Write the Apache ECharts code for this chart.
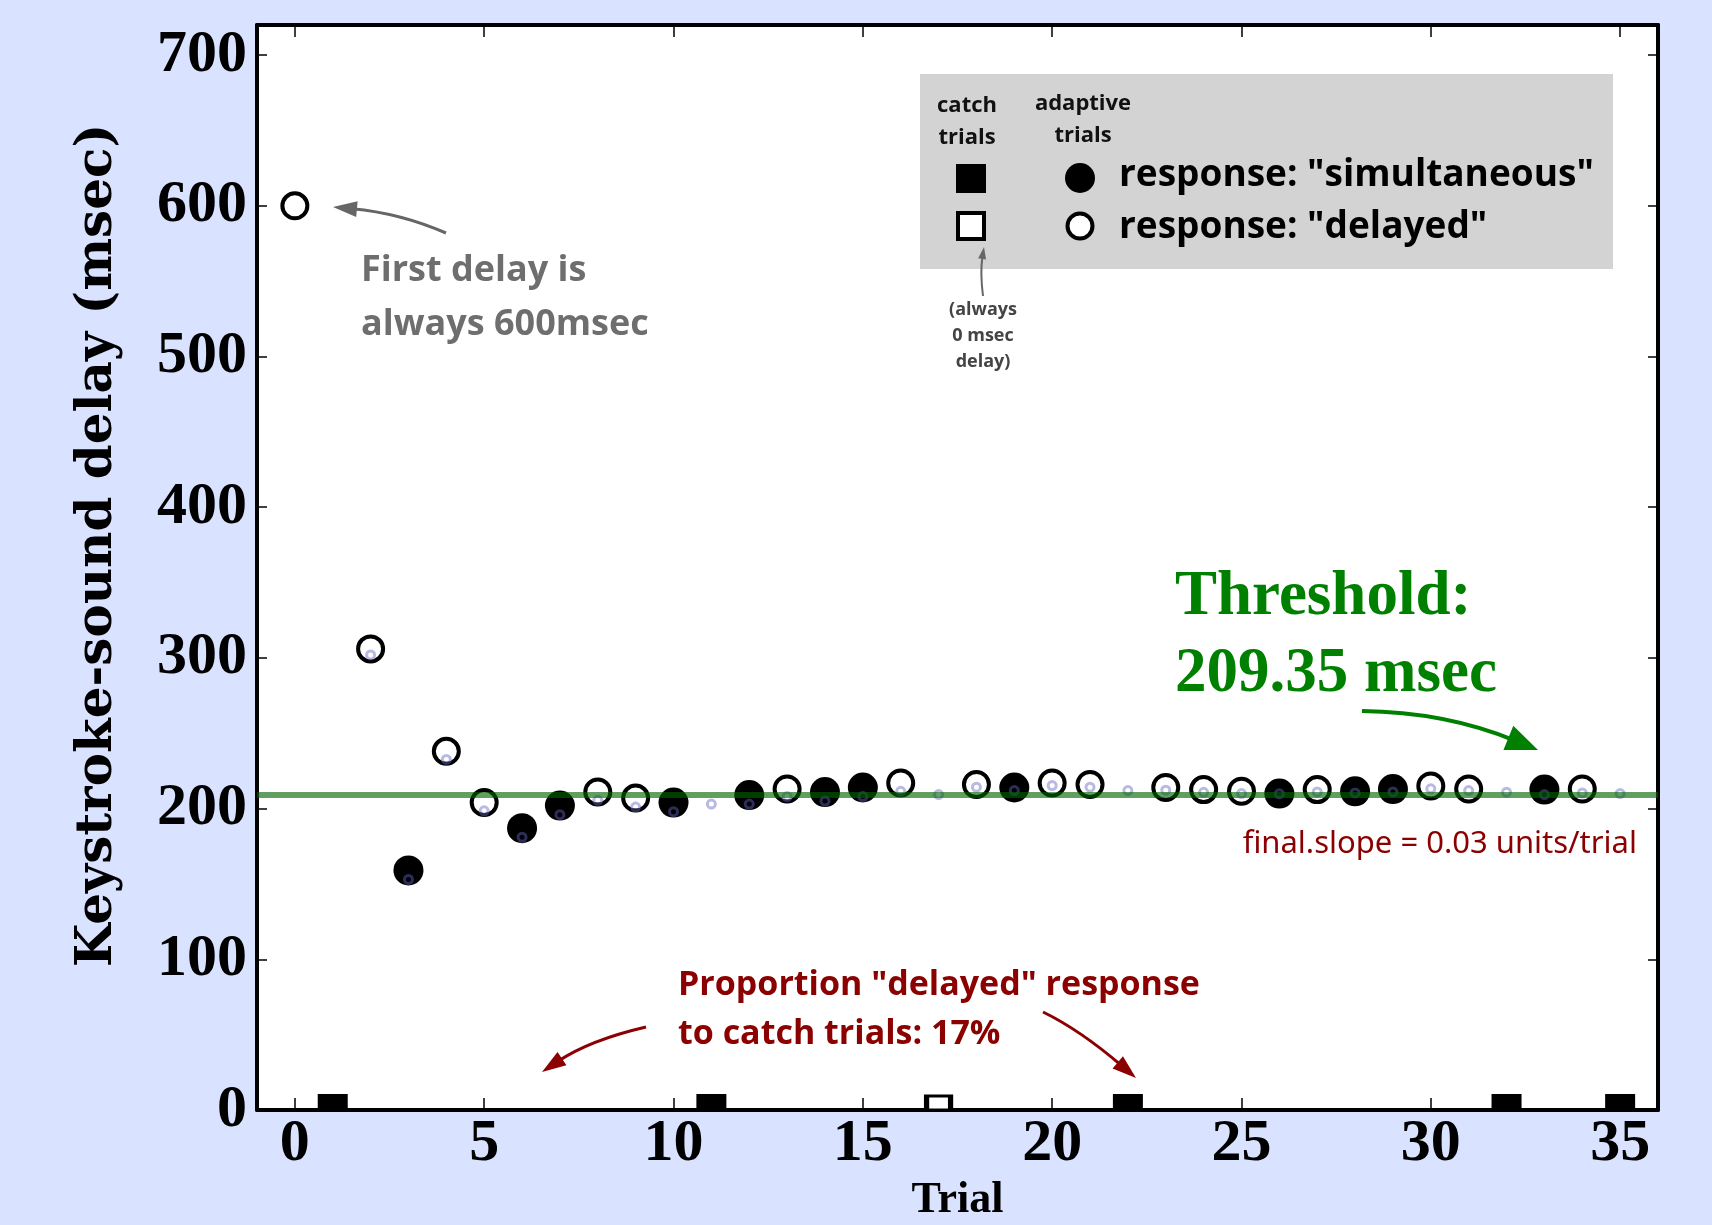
<!DOCTYPE html>
<html><head><meta charset="utf-8">
<script src="https://cdn.jsdelivr.net/npm/echarts@6/dist/echarts.min.js"></script>
<style>html,body{margin:0;padding:0;background:#d9e2fe;}#c{width:1712px;height:1225px;}</style>
</head><body><div id="c"></div>
<script>
// ---- data ----
const xTickValues = [0, 5, 10, 15, 20, 25, 30, 35];
const yTickValues = [0, 100, 200, 300, 400, 500, 600, 700];
// adaptive trials, response "simultaneous" (filled circles)
const simTrials = [3, 6, 7, 10, 12, 14, 15, 19, 26, 28, 29, 33];
const simDelays = [159, 187, 202, 204, 209, 211, 214, 214, 210, 211.5, 213, 212.6];
// adaptive trials, response "delayed" (open circles)
const delTrials = [0, 2, 4, 5, 8, 9, 13, 16, 18, 20, 21, 23, 24, 25, 27, 30, 31, 34];
const delDelays = [600, 306, 238, 204, 211, 207, 213, 217, 216, 217, 216, 214, 212.6, 211.5, 212.6, 215, 213, 213];
// catch trials (always 0 msec delay)
const catchSimTrials = [1, 11, 22, 32, 35];
const catchDelTrials = [17];
const catchDelay = 0;
// running estimate (small faint circles)
const estTrials = [2, 3, 4, 5, 6, 7, 8, 9, 10, 11, 12, 13, 14, 15, 16, 17, 18, 19, 20, 21, 22, 23, 24, 25, 26, 27, 28, 29, 30, 31, 32, 33, 34, 35];
const estDelays = [302, 153, 232.6, 198.5, 181, 196, 205.5, 201, 198, 203, 203, 208, 205, 208, 211.5, 209.3, 214.2, 212, 215.3, 214.2, 212, 212.2, 210.8, 210, 209.8, 211.1, 210.4, 211.1, 213.1, 212, 210.9, 209.3, 210.4, 210];
const THRESHOLD = 209.35;
const SLOPE = 0.03;
const PROP_DELAYED = 17;

const pairs = (xs, ys) => xs.map((x, i) => [x, ys[i]]);
const serifFont = '"Liberation Serif", "DejaVu Serif", serif';
const sansFont = '"Open Sans", "Noto Sans", sans-serif';

function arrow(p0, c, p1, color, width, headLen, headW, z) {
  const dx = p1[0] - c[0], dy = p1[1] - c[1];
  const L = Math.hypot(dx, dy), ux = dx / L, uy = dy / L;
  const base = [p1[0] - ux * headLen * 0.8, p1[1] - uy * headLen * 0.8];
  const hb = [p1[0] - ux * headLen, p1[1] - uy * headLen];
  const nx = -uy, ny = ux;
  return [
    { type: 'bezierCurve', z: z, shape: { x1: p0[0], y1: p0[1], cpx1: c[0], cpy1: c[1], x2: base[0], y2: base[1] },
      style: { stroke: color, lineWidth: width, fill: null } },
    { type: 'polygon', z: z, shape: { points: [p1, [hb[0] + nx * headW / 2, hb[1] + ny * headW / 2], [hb[0] - nx * headW / 2, hb[1] - ny * headW / 2]] },
      style: { fill: color } }
  ];
}
function txt(text, x, y, font, fill, align) {
  return { type: 'text', z: 50, style: { text: text, x: x, y: y, font: font, fill: fill, textAlign: align || 'left', textVerticalAlign: 'middle' } };
}

const chart = echarts.init(document.getElementById('c'), null, { renderer: 'canvas' });

const axisLineStyle = { color: '#000', width: 4 };
const option = {
  backgroundColor: '#d9e2fe',
  animation: false,
  grid: { left: 257, right: 54, top: 25, bottom: 115, show: true, backgroundColor: '#ffffff', borderWidth: 0,
          containLabel: false, outerBoundsMode: 'none' },
  xAxis: [
    { type: 'value', min: -1, max: 36, position: 'bottom',
      axisLine: { show: true, onZero: false, lineStyle: axisLineStyle },
      axisTick: { show: true, inside: true, length: 12, customValues: xTickValues, lineStyle: { color: '#000', width: 1.5 } },
      axisLabel: { customValues: xTickValues, fontFamily: serifFont, fontWeight: 'bold', fontSize: 60, color: '#000', margin: 4 },
      splitLine: { show: false },
      name: 'Trial', nameLocation: 'middle', nameGap: 68,
      nameTextStyle: { fontFamily: serifFont, fontWeight: 'bold', fontSize: 44, color: '#000' } },
    { type: 'value', min: -1, max: 36, position: 'top',
      axisLine: { show: true, onZero: false, lineStyle: axisLineStyle },
      axisTick: { show: true, inside: true, length: 12, customValues: xTickValues, lineStyle: { color: '#000', width: 1.5 } },
      axisLabel: { show: false }, splitLine: { show: false } }
  ],
  yAxis: [
    { type: 'value', min: 0, max: 720, interval: 100, position: 'left',
      axisLine: { show: true, onZero: false, lineStyle: axisLineStyle },
      axisTick: { show: true, inside: true, length: 10, customValues: yTickValues, lineStyle: { color: '#000', width: 1.5 } },
      axisLabel: { customValues: yTickValues, fontFamily: serifFont, fontWeight: 'bold', fontSize: 60, color: '#000', margin: 10 },
      splitLine: { show: false },
      name: 'Keystroke-sound delay (msec)', nameLocation: 'middle', nameGap: 134,
      nameTextStyle: { fontFamily: '"DejaVu Serif", serif', fontWeight: 'bold', fontSize: 50, color: '#000', padding: [0, 0, 0, 44] } },
    { type: 'value', min: 0, max: 720, interval: 100, position: 'right',
      axisLine: { show: true, onZero: false, lineStyle: axisLineStyle },
      axisTick: { show: true, inside: true, length: 10, customValues: yTickValues, lineStyle: { color: '#000', width: 1.5 } },
      axisLabel: { show: false }, splitLine: { show: false } }
  ],
  series: [
    { name: 'catch simultaneous', type: 'scatter', z: 2, symbol: 'rect', symbolSize: [30, 16], symbolOffset: [0, -8],
      itemStyle: { color: '#000', opacity: 1 }, data: catchSimTrials.map(t => [t, catchDelay]) },
    { name: 'catch delayed', type: 'scatter', z: 2, symbol: 'rect', symbolSize: [24, 14], symbolOffset: [0, -7],
      itemStyle: { color: '#fff', borderColor: '#000', borderWidth: 4, opacity: 1 }, data: catchDelTrials.map(t => [t, catchDelay]) },
    { name: 'simultaneous', type: 'scatter', z: 2, symbol: 'circle', symbolSize: 30,
      itemStyle: { color: '#000', opacity: 1 }, data: pairs(simTrials, simDelays) },
    { name: 'delayed', type: 'scatter', z: 2, symbol: 'circle', symbolSize: 25,
      itemStyle: { color: '#fff', borderColor: '#000', borderWidth: 4, opacity: 1 }, data: pairs(delTrials, delDelays) },
    { name: 'threshold', type: 'line', z: 3, data: [], symbol: 'none',
      markLine: { silent: true, symbol: ['none', 'none'], label: { show: false },
        lineStyle: { color: 'rgba(0,100,0,0.62)', width: 6, type: 'solid', opacity: 1 },
        data: [{ yAxis: THRESHOLD }] } },
    { name: 'estimate', type: 'scatter', z: 4, symbol: 'circle', symbolSize: 8,
      itemStyle: { color: 'rgba(0,0,0,0)', borderColor: 'rgba(100,100,200,0.45)', borderWidth: 3, opacity: 1 },
      data: pairs(estTrials, estDelays) }
  ],
  graphic: { elements: [] }
};

const g = [];
// legend box
g.push({ type: 'rect', z: 40, shape: { x: 920, y: 74, width: 693, height: 195 }, style: { fill: '#d3d3d3' } });
g.push(txt('catch', 967, 106, 'bold 22px ' + sansFont, '#111', 'center'));
g.push(txt('trials', 967, 138, 'bold 22px ' + sansFont, '#111', 'center'));
g.push(txt('adaptive', 1083, 104, 'bold 22px ' + sansFont, '#111', 'center'));
g.push(txt('trials', 1083, 136, 'bold 22px ' + sansFont, '#111', 'center'));
g.push({ type: 'rect', z: 45, shape: { x: 956, y: 164, width: 30, height: 29 }, style: { fill: '#000' } });
g.push({ type: 'rect', z: 45, shape: { x: 958, y: 213, width: 26, height: 26 }, style: { fill: '#fff', stroke: '#000', lineWidth: 4 } });
g.push({ type: 'circle', z: 45, shape: { cx: 1080, cy: 178, r: 15 }, style: { fill: '#000' } });
g.push({ type: 'circle', z: 45, shape: { cx: 1080, cy: 226, r: 12.5 }, style: { fill: '#fff', stroke: '#000', lineWidth: 4 } });
g.push(txt('response: "simultaneous"', 1119, 175, 'bold 37px ' + sansFont, '#000'));
g.push(txt('response: "delayed"', 1119, 227, 'bold 37px ' + sansFont, '#000'));
// note under legend
g.push(...arrow([983, 296], [980, 272], [984, 247], '#666', 2, 12, 8, 45));
g.push(txt('(always', 983, 310, 'bold 18px ' + sansFont, '#444', 'center'));
g.push(txt('0 msec', 983, 336, 'bold 18px ' + sansFont, '#444', 'center'));
g.push(txt('delay)', 983, 362, 'bold 18px ' + sansFont, '#444', 'center'));
// first delay annotation
g.push(...arrow([446, 233], [400, 213], [333, 207], '#666', 3, 24, 16, 45));
g.push(txt('First delay is', 361, 271, 'bold 36px ' + sansFont, '#6e6e6e'));
g.push(txt('always 600msec', 361, 325, 'bold 36px ' + sansFont, '#6e6e6e'));
// threshold annotation
g.push(txt('Threshold:', 1175, 598, 'bold 63px ' + serifFont, '#008000'));
g.push(txt(THRESHOLD.toFixed(2) + ' msec', 1175, 675, 'bold 63px ' + serifFont, '#008000'));
g.push(...arrow([1362, 711], [1445, 712], [1538, 750], '#008000', 4, 32, 26, 45));
// slope annotation
g.push(txt('final.slope = ' + SLOPE.toFixed(2) + ' units/trial', 1637, 844, '31px "Noto Sans", sans-serif', '#8b0000', 'right'));
// proportion annotation
g.push(txt('Proportion "delayed" response', 678, 985, 'bold 34px ' + sansFont, '#8b0000'));
g.push(txt('to catch trials: ' + PROP_DELAYED + '%', 678, 1034, 'bold 34px ' + sansFont, '#8b0000'));
g.push(...arrow([646, 1027], [590, 1040], [542, 1072], '#8b0000', 3, 24, 16, 45));
g.push(...arrow([1043, 1012], [1080, 1030], [1136, 1078], '#8b0000', 3, 24, 16, 45));
option.graphic.elements = g;

chart.setOption(option);
</script>
</body></html>
